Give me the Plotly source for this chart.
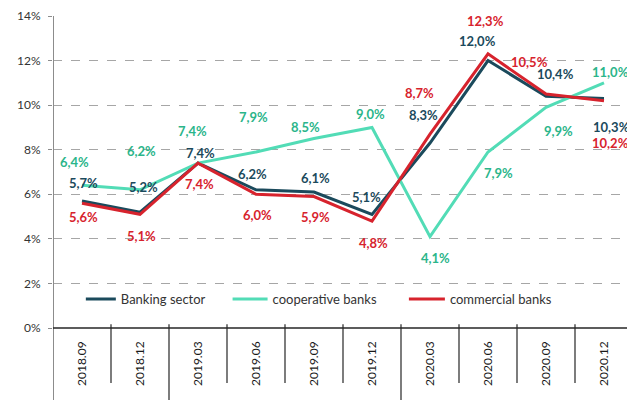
import plotly.graph_objects as go

# --- data ---
periods = ['2018.09', '2018.12', '2019.03', '2019.06', '2019.09',
           '2019.12', '2020.03', '2020.06', '2020.09', '2020.12']
banking_sector = [5.7, 5.2, 7.4, 6.2, 6.1, 5.1, 8.3, 12.0, 10.4, 10.3]
cooperative_banks = [6.4, 6.2, 7.4, 7.9, 8.5, 9.0, 4.1, 7.9, 9.9, 11.0]
commercial_banks = [5.6, 5.1, 7.4, 6.0, 5.9, 4.8, 8.7, 12.3, 10.5, 10.2]
y_ticks = [0, 2, 4, 6, 8, 10, 12, 14]

# label offsets in px (dx, dy), dy positive = down
banking_off = [(1, -18), (3, -25), (2, -10), (-4, -16), (1, -14),
               (-6, -17), (-7, -28), (-11, -20), (9, -22), (7, 29)]
coop_off = [(-8, -23), (1, -39), (-6, -32), (-3, -35), (-9, -12),
            (-2, -13), (5, 21), (10, 21), (12, 24), (6, -11)]
commercial_off = [(1, 14), (1, 22), (1, 21), (1, 21), (1, 20),
                  (1, 22), (-11, -41), (-3, -33), (-17, -32), (6, 42)]

NAVY = '#1b4a5c'
TEAL = '#52dcb6'
TEAL_TXT = '#2bb58a'
RED = '#d7232d'
FONT = 'Lato'

# name, values, line colour, label colour, label offsets, legend, legend x, itemwidth
series = [
    ('Banking sector', banking_sector, NAVY, NAVY, banking_off, 'legend', 0.048, 30),
    ('cooperative banks', cooperative_banks, TEAL, TEAL_TXT, coop_off, 'legend2', 0.301, 35),
    ('commercial banks', commercial_banks, RED, RED, commercial_off, 'legend3', 0.605, 36),
]

fig = go.Figure()
annotations = []
legends = {}
for name, vals, col, txtcol, offs, leg, lx, iw in series:
    fig.add_trace(go.Scatter(x=periods, y=vals, name=name, mode='lines',
                             line=dict(color=col, width=3), legend=leg))
    legends[leg] = dict(orientation='h', x=lx, y=0.093, xanchor='left', yanchor='middle',
                        bgcolor='rgba(0,0,0,0)', itemwidth=iw,
                        font=dict(family=FONT, size=13, color='#333333'))
    for i, (v, (dx, dy)) in enumerate(zip(vals, offs)):
        annotations.append(dict(
            x=i, y=v, xref='x', yref='y', text=f"{v:.1f}".replace('.', ',') + '%',
            showarrow=False, xshift=dx, yshift=-dy,
            font=dict(family=FONT, size=13, color=txtcol, weight='bold')))

# the page body has an 8px margin, so the figure is laid out 8px up/left
H_PLOT = 312.0
sep_short = -55 / H_PLOT
sep_long = -80 / H_PLOT

shapes = []
years = [p[:4] for p in periods]
for i in range(len(periods) + 1):
    b = i - 0.5
    group_edge = i == 0 or i == len(periods) or years[i] != years[i - 1]
    shapes.append(dict(type='line', xref='x', yref='paper', x0=b, x1=b,
                       y0=1 if i == 0 else 0.012,
                       y1=sep_long if group_edge else sep_short,
                       line=dict(color='#8c8c8c' if i == 0 else '#262626',
                                 width=2 if i == 0 else 1.2)))
# x axis baseline
shapes.append(dict(type='line', xref='paper', yref='paper', x0=0, x1=1,
                   y0=0, y1=0, line=dict(color='#262626', width=1.5)))

fig.update_layout(
    width=635, height=400,
    margin=dict(l=45, r=10, t=8, b=80, autoexpand=False),
    paper_bgcolor='white', plot_bgcolor='white',
    font=dict(family=FONT, size=12, color='#333333'),
    showlegend=True,
    annotations=annotations,
    shapes=shapes,
    **legends,
)
fig.update_xaxes(type='category', range=[-0.5, len(periods) - 0.5], automargin=False,
                 tickangle=-90, ticks='', ticklabelstandoff=10,
                 tickfont=dict(size=12, color='#1a1a1a'),
                 showgrid=False, showline=False, zeroline=False)
fig.update_yaxes(range=[0, 14], tickvals=y_ticks, ticktext=[f"{t}%" for t in y_ticks],
                 automargin=False,
                 ticks='outside', ticklen=4, tickcolor='#8c8c8c', ticklabelstandoff=5,
                 showgrid=True, gridcolor='#a6a6a6', griddash='dash', gridwidth=1,
                 showline=False, zeroline=False,
                 tickfont=dict(size=12, color='#333333'))

fig.write_html("out.html")
